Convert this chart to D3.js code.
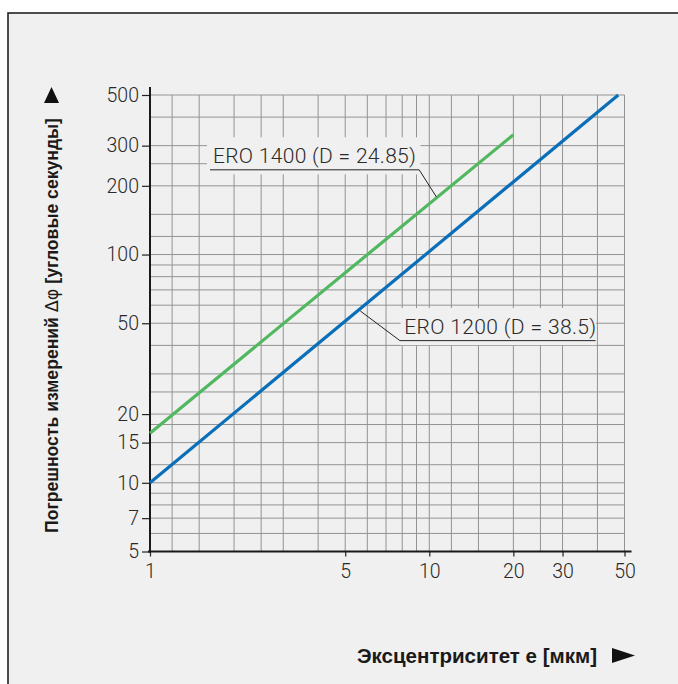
<!DOCTYPE html>
<html><head><meta charset="utf-8">
<script src="https://cdn.jsdelivr.net/npm/d3@7"></script>
<style>
html,body{margin:0;padding:0;background:#fff;}
svg{display:block;}
</style></head>
<body>
<svg id="chart" width="678" height="684"></svg>
<script>
// ---- data ----
const xTickValues = [1, 5, 10, 20, 30, 50];
const yTickValues = [5, 7, 10, 15, 20, 50, 100, 200, 300, 500];
const xGridValues = [1, 1.2, 1.5, 2, 2.5, 3, 4, 5, 6, 7, 8, 9, 10, 12, 15, 20, 25, 30, 40, 50];
const yGridValues = [5, 6, 7, 8, 9, 10, 12, 15, 18, 20, 25, 30, 40, 50, 60, 70, 80, 90, 100, 120, 150, 200, 250, 300, 400, 500];
const ero1200 = [[1, 10], [47.5, 500]];
const ero1400 = [[1, 16.5], [20, 335]];
const seriesNames = ["ERO 1200 (D = 38.5)", "ERO 1400 (D = 24.85)"];
const xLabel = "Эксцентриситет е [мкм]";
const yLabel = "Погрешность измерений ";
const yLabelSym = "Δφ";
const yLabelEnd = " [угловые секунды]";

// ---- drawing ----
const svg = d3.select("#chart");
const BG = "#f0f0f0";
svg.append("rect").attr("x", 8).attr("y", 13).attr("width", 700).attr("height", 700)
  .attr("fill", BG).attr("stroke", "#222").attr("stroke-width", 1.6);

const x = d3.scaleLog().domain([1, 50]).range([150, 624.5]);
const y = d3.scaleLog().domain([5, 500]).range([551.5, 95]);

const g = svg.append("g");
// grid
g.append("g").selectAll("line").data(xGridValues).join("line")
  .attr("x1", d => x(d)).attr("x2", d => x(d))
  .attr("y1", y(500)).attr("y2", y(5))
  .attr("stroke", "#939393").attr("stroke-width", 1);
g.append("g").selectAll("line").data(yGridValues).join("line")
  .attr("x1", x(1)).attr("x2", x(50))
  .attr("y1", d => y(d)).attr("y2", d => y(d))
  .attr("stroke", "#939393").attr("stroke-width", 1);

// axes
const fontTick = "Roboto, 'Liberation Sans', sans-serif";
const yAxis = d3.axisLeft(y).tickValues(yTickValues).tickFormat(d3.format("d")).tickSizeOuter(0).tickSize(8).tickPadding(3);
const ya = svg.append("g").attr("transform", `translate(${x(1)},0)`).call(yAxis);
ya.select(".domain").remove();
ya.selectAll(".tick line").attr("stroke", "#222").attr("stroke-width", 1.2);
ya.selectAll("text").attr("font-family", fontTick).attr("font-weight", 300)
  .attr("font-size", 19.5).attr("fill", "#2a2a2a");

const xAxis = d3.axisBottom(x).tickValues(xTickValues).tickFormat(d3.format("d")).tickSizeOuter(0).tickSize(5).tickPadding(8);
const xa = svg.append("g").attr("transform", `translate(0,${y(5)})`).call(xAxis);
xa.select(".domain").remove();
xa.selectAll(".tick line").attr("stroke", "#222").attr("stroke-width", 1.2);
xa.selectAll("text").attr("font-family", fontTick).attr("font-weight", 300)
  .attr("font-size", 19.5).attr("fill", "#2a2a2a");

// axis lines
svg.append("line").attr("x1", x(1)).attr("x2", x(1)).attr("y1", y(500) - 8).attr("y2", y(5) + 1)
  .attr("stroke", "#1a1a1a").attr("stroke-width", 2);
svg.append("line").attr("x1", x(1) - 2).attr("x2", x(50) + 7).attr("y1", y(5)).attr("y2", y(5))
  .attr("stroke", "#1a1a1a").attr("stroke-width", 2);

// series
const line = d3.line().x(d => x(d[0])).y(d => y(d[1]));
svg.append("path").datum(ero1400).attr("d", line).attr("fill", "none")
  .attr("stroke", "#52b860").attr("stroke-width", 3.2);
svg.append("path").datum(ero1200).attr("d", line).attr("fill", "none")
  .attr("stroke", "#0a6fb8").attr("stroke-width", 3.2);

// annotations
function annot(text, tx, ty, tw, boxX0, boxX1, ulX0, ulX1, leaderFromRight, target) {
  const bx = x(boxX0), bx1 = x(boxX1);
  const baseY = y(ty);
  svg.append("rect").attr("x", bx).attr("y", baseY - 26).attr("width", bx1 - bx).attr("height", 37)
    .attr("fill", BG);
  svg.append("text").attr("x", x(tx)).attr("y", baseY).text(text)
    .attr("textLength", tw).attr("lengthAdjust", "spacing")
    .attr("font-family", fontTick).attr("font-weight", 300).attr("font-size", 21).attr("fill", "#2a2a2a");
  const ulY = baseY + 6.5;
  svg.append("line").attr("x1", x(ulX0)).attr("x2", x(ulX1)).attr("y1", ulY).attr("y2", ulY)
    .attr("stroke", "#222").attr("stroke-width", 1);
  const sx = leaderFromRight ? x(ulX1) : x(ulX0);
  svg.append("line").attr("x1", sx).attr("y1", ulY).attr("x2", x(target[0])).attr("y2", y(target[1]))
    .attr("stroke", "#222").attr("stroke-width", 1);
}
annot(seriesNames[1], 1.68, 251, 203, 1.6, 9.3, 1.64, 9.2, true, [10.6, 179]);
annot(seriesNames[0], 8.13, 44.8, 192, 7.9, 39.5, 7.85, 39.4, false, [5.66, 56.6]);

// axis titles
const fontBold = "'Liberation Sans', Arial, sans-serif";
svg.append("text").attr("x", 357).attr("y", 663).text(xLabel)
  .attr("textLength", 240).attr("lengthAdjust", "spacingAndGlyphs")
  .attr("font-family", fontBold).attr("font-weight", 700).attr("font-size", 20).attr("fill", "#1a1a1a");
svg.append("path").attr("d", "M612,648 L635,655.5 L612,663 Z").attr("fill", "#111");

const yt = svg.append("text").attr("transform", "translate(58,533) rotate(-90)")
  .attr("textLength", 415).attr("lengthAdjust", "spacingAndGlyphs")
  .attr("font-family", fontBold).attr("font-weight", 700).attr("font-size", 17.5).attr("fill", "#1a1a1a");
yt.append("tspan").text(yLabel);
yt.append("tspan").attr("font-weight", 400).attr("font-family", "'DejaVu Sans', sans-serif").text(yLabelSym);
yt.append("tspan").text(yLabelEnd);
svg.append("path").attr("d", "M44,103 L51.5,87 L59,103 Z").attr("fill", "#111");
</script>
</body></html>
